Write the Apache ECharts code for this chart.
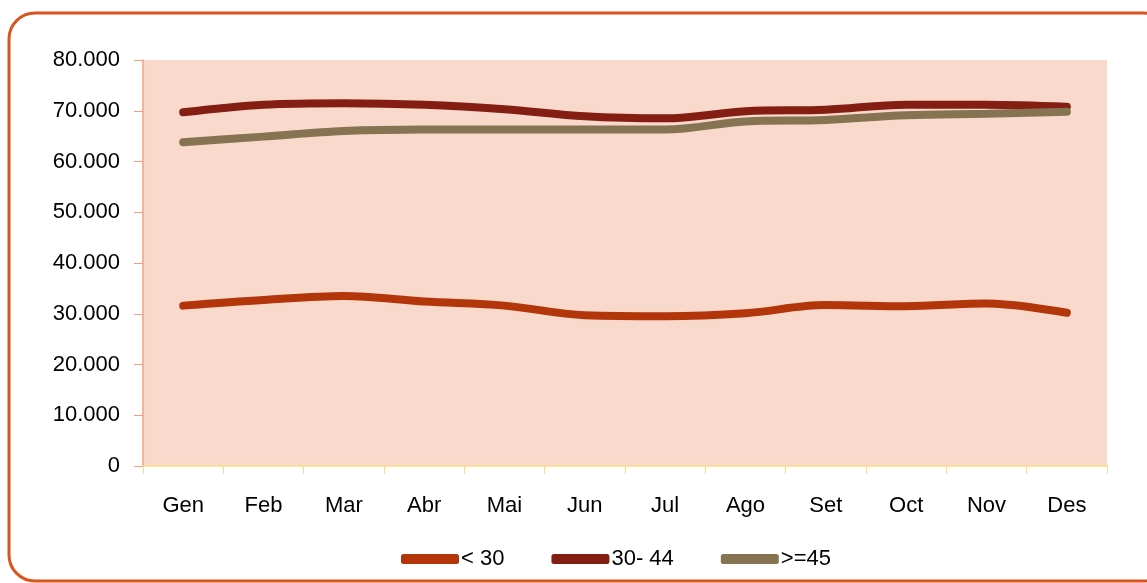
<!DOCTYPE html>
<html>
<head>
<meta charset="utf-8">
<script src="https://cdn.jsdelivr.net/npm/echarts@6/dist/echarts.min.js"></script>
<style>
  html, body { margin: 0; padding: 0; background: #fff; }
  #chart { width: 1147px; height: 583px; }
</style>
</head>
<body>
<div id="chart"></div>
<script>
var months = ['Gen', 'Feb', 'Mar', 'Abr', 'Mai', 'Jun', 'Jul', 'Ago', 'Set', 'Oct', 'Nov', 'Des'];
var under30 = [31600, 32700, 33500, 32400, 31600, 29700, 29500, 30100, 31700, 31500, 32000, 30200];
var from30to44 = [69700, 71200, 71500, 71200, 70300, 68900, 68500, 69900, 70200, 71200, 71200, 70800];
var over45 = [63800, 64900, 66000, 66300, 66300, 66300, 66300, 67900, 68200, 69100, 69400, 69800];

var font = 'Liberation Sans';
var chart = echarts.init(document.getElementById('chart'));

function line(name, data, color) {
  return {
    name: name,
    type: 'line',
    data: data,
    smooth: 0.35,
    symbol: 'none',
    color: color,
    lineStyle: { width: 8, color: color, cap: 'round' }
  };
}

chart.setOption({
  animation: false,
  graphic: [{
    type: 'rect',
    shape: { x: 9, y: 13, width: 1160, height: 568, r: 26 },
    style: { fill: 'none', stroke: '#D9541E', lineWidth: 3 }
  }],
  grid: {
    left: 143, top: 60, right: 40, bottom: 117,
    show: true, backgroundColor: '#F8D9CC', borderWidth: 0
  },
  legend: {
    left: 396, top: 543,
    itemWidth: 58, itemHeight: 10, itemGap: 47,
    icon: 'roundRect',
    textStyle: { fontFamily: font, fontSize: 22, color: '#000', padding: [0, 0, 0, -3] },
    data: ['< 30', '30- 44', '>=45']
  },
  xAxis: {
    type: 'category',
    data: months,
    boundaryGap: true,
    axisLine: { lineStyle: { color: '#FCDB84', width: 1.5 } },
    axisTick: { show: true, length: 8, lineStyle: { color: '#FCDB84' } },
    axisLabel: { fontFamily: font, fontSize: 22, color: '#000', margin: 29 },
    splitLine: { show: false }
  },
  yAxis: {
    type: 'value',
    min: 0, max: 80000, interval: 10000,
    axisLine: { show: true, lineStyle: { color: '#F4A07E', width: 1.5 } },
    axisTick: { show: true, length: 9, lineStyle: { color: '#F4A07E' } },
    splitLine: { show: false },
    axisLabel: {
      fontFamily: font, fontSize: 22, color: '#000', margin: 23,
      formatter: function (v) { return v === 0 ? '0' : (v / 1000) + '.000'; }
    }
  },
  series: [
    line('< 30', under30, '#B3360B'),
    line('30- 44', from30to44, '#841E13'),
    line('>=45', over45, '#857352')
  ]
});
</script>
</body>
</html>
